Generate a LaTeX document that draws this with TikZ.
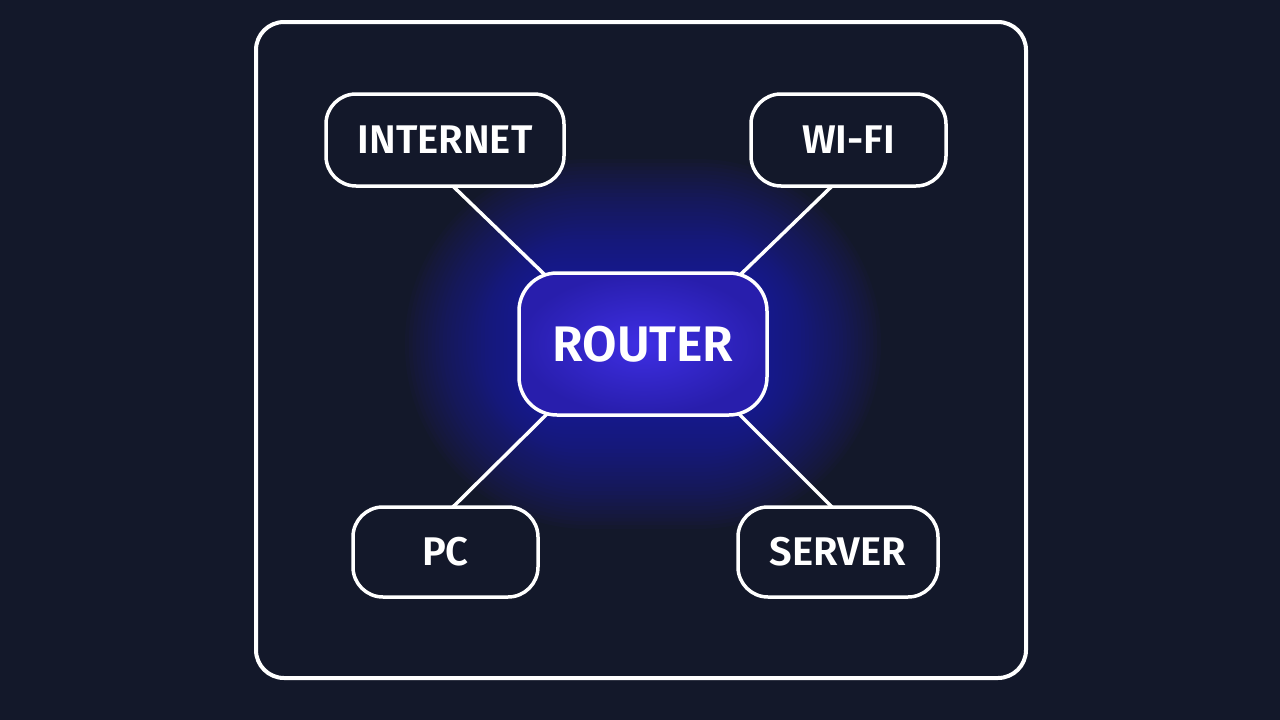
\documentclass[tikz,border=0pt]{standalone}
\usepackage{fontspec}
\setmainfont{Fira Sans}[UprightFont=* SemiBold]
\usetikzlibrary{calc}
\definecolor{bg}{RGB}{19,24,42}
\definecolor{glowc}{RGB}{52,40,215}
\definecolor{routerin}{RGB}{62,46,228}
\definecolor{routerout}{RGB}{40,30,172}
\tikzset{
  box/.style={draw=white, line width=3.5pt, rounded corners=30pt, fill=bg,
    text=white, font=\fontsize{40}{40}\selectfont, inner sep=0pt},
  routerbox/.style={draw=white, line width=3.5pt, rounded corners=38pt,
    inner color=routerin, outer color=routerout,
    text=white, font=\fontsize{50}{50}\selectfont, inner sep=0pt},
  link/.style={draw=white, line width=3.5pt},
  glowlayer/.style={fill=glowc, opacity=0.032}
}
\begin{document}
\begin{tikzpicture}[x=1pt,y=-1pt]
\fill[bg] (0,0) rectangle (1280,720);
\useasboundingbox (0,0) rectangle (1280,720);
% node centres
\coordinate (ci) at (445,140);
\coordinate (cw) at (848.5,140);
\coordinate (cr) at (643,344);
\coordinate (cp) at (445.5,552);
\coordinate (cs) at (838,552);
% glow around the router
\foreach \i in {1,...,30}{
  \pgfmathsetmacro{\d}{\i*3.8}
  \pgfmathsetmacro{\rc}{min(38+1.6*\d,70+\d)}
  \fill[glowlayer, rounded corners=\rc pt] ($(cr)+(-124-\d,-71-\d)$) rectangle ($(cr)+(124+\d,71+\d)$);
}
\draw[white, line width=4pt, rounded corners=28pt] (256,22) rectangle (1026,678);
% connectors (drawn beneath the filled nodes)
\coordinate (li) at ($(ci)+(-15,24)$);
\coordinate (ri) at ($(cr)+(-43,-16)$);
\coordinate (lw) at ($(cw)+(1.5,28.7)$);
\coordinate (rw) at ($(cr)+(47,-20.6)$);
\coordinate (lp) at ($(cp)+(-5.5,-32.2)$);
\coordinate (rp) at ($(cr)+(-43,17.6)$);
\coordinate (ls) at ($(cs)+(12,-27)$);
\coordinate (rs) at ($(cr)+(47,21)$);
\draw[link] (li) -- (ri);
\draw[link] (lw) -- (rw);
\draw[link] (lp) -- (rp);
\draw[link] (ls) -- (rs);
\node[box, minimum width=238pt, minimum height=92pt] (internet) at (ci) {INTERNET};
\node[box, minimum width=195pt, minimum height=92pt] (wifi) at (cw) {WI-FI};
\node[box, minimum width=185pt, minimum height=90pt] (pc) at (cp) {PC};
\node[box, minimum width=200pt, minimum height=90pt] (server) at (cs) {SERVER};
\node[routerbox, minimum width=248pt, minimum height=142pt] (router) at (cr) {ROUTER};
\end{tikzpicture}
\end{document}
